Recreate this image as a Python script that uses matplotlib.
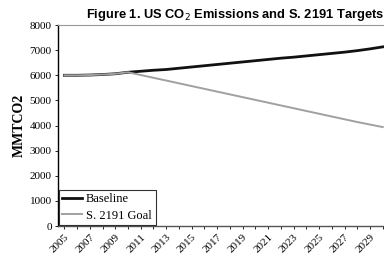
import matplotlib
matplotlib.use("Agg")
import matplotlib.pyplot as plt

years = list(range(2005, 2031))
baseline = [6000, 6000, 6010, 6030, 6060, 6120, 6160, 6200, 6230, 6280,
            6330, 6380, 6430, 6480, 6530, 6580, 6630, 6680, 6720, 6770,
            6820, 6870, 6920, 6980, 7050, 7130]
goal = [6000, 6000, 6010, 6030, 6060, 6120, 6010, 5900, 5790, 5680,
        5570, 5460, 5350, 5240, 5130, 5020, 4910, 4800, 4690, 4580,
        4470, 4360, 4250, 4140, 4040, 3940]
tick_years = list(range(2005, 2030, 2))

serif = "Liberation Serif"

fig = plt.figure(figsize=(3.84, 2.66), dpi=100)
ax = fig.add_axes([0.151, 0.150, 0.849, 0.756])

ax.plot(years, baseline, color="#111111", lw=2.0, label="Baseline")
ax.plot(years, goal, color="#a0a0a0", lw=1.4, label="S. 2191 Goal")

ax.set_xlim(2004.5, 2030.1)
ax.set_ylim(0, 8000)
ax.set_yticks(range(0, 8001, 1000))
ax.set_xticks(tick_years)
ax.set_xticks(years, minor=True)
ax.set_xticklabels([str(y) for y in tick_years], rotation=45, ha="right",
                   rotation_mode="anchor", fontsize=8, family=serif)
for lab in ax.get_yticklabels():
    lab.set_family(serif)
    lab.set_fontsize(8)

ax.tick_params(axis="both", which="both", length=2.5, width=0.6, pad=2)
ax.spines["right"].set_visible(False)
ax.spines["top"].set_color("#999999")
ax.spines["top"].set_linestyle((0, (1, 1)))
ax.spines["left"].set_linewidth(1.0)
ax.spines["bottom"].set_linewidth(1.0)
ax.spines["bottom"].set_color("#555555")

ax.set_ylabel("MMTCO2", family=serif, fontweight="bold", fontsize=10, labelpad=3)
# title sits right of the axes centre in the original
fig.text(0.612, 0.915, "Figure 1. US CO$_2$ Emissions and S. 2191 Targets",
         family="Liberation Sans", fontweight="bold", fontsize=9.3,
         ha="center", va="bottom")

leg = ax.legend(loc="lower left", prop={"family": serif, "size": 9},
                frameon=True, fancybox=False, edgecolor="black",
                borderaxespad=0.05, handlelength=1.6, handletextpad=0.3,
                borderpad=0.3, labelspacing=0.35)
leg.get_frame().set_linewidth(0.8)

fig.savefig("out.png", dpi=100)
